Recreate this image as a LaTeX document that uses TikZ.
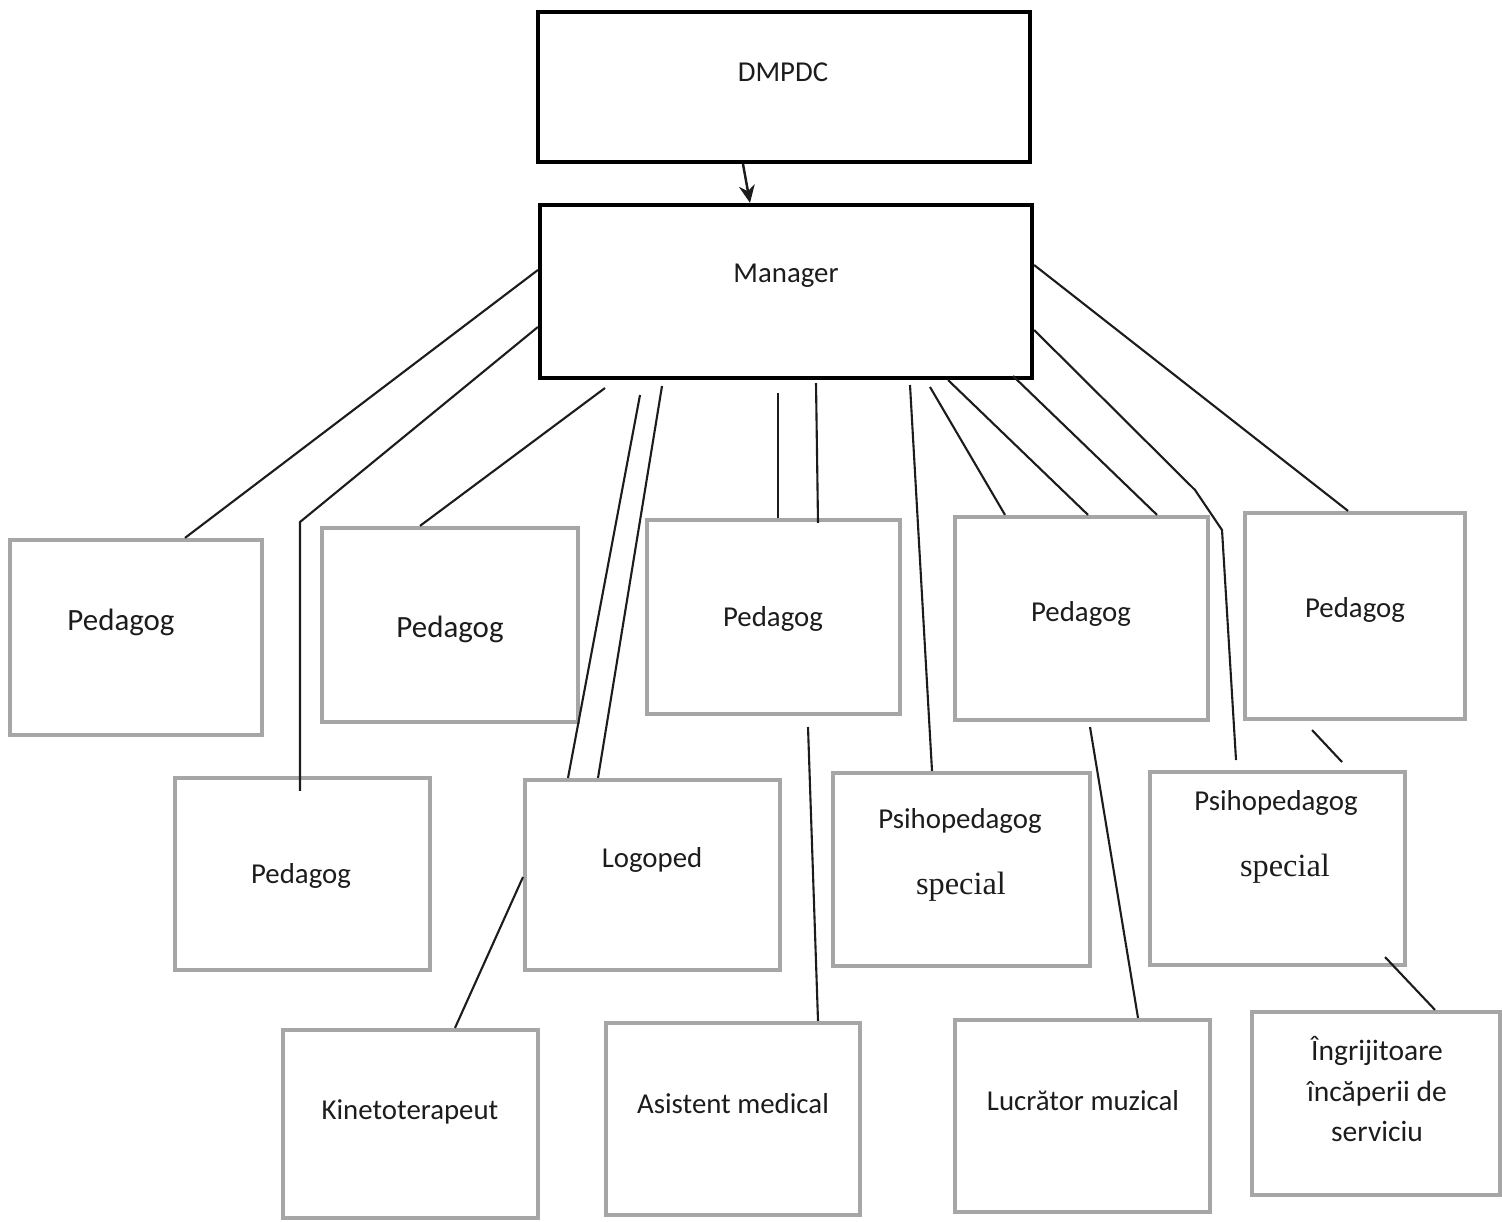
\documentclass[tikz,border=0pt]{standalone}
\usepackage{fontspec}
\setmainfont{Carlito}
\newfontfamily\serifx{Liberation Serif}
\usetikzlibrary{fit,calc,arrows.meta}
\definecolor{ink}{HTML}{1C1C1C}
\definecolor{boxgray}{HTML}{A6A6A6}
\tikzset{
  topbox/.style={draw=black, line width=1.2pt, inner sep=0pt},
  grbox/.style={draw=boxgray, line width=1.2pt, inner sep=0pt},
  lbl/.style={text=ink, font=\fontsize{8.2}{10}\selectfont, inner sep=0pt},
  sp/.style={text=ink, font=\serifx\fontsize{9.2}{11}\selectfont, inner sep=0pt},
  conn/.style={draw=ink, line width=0.6pt},
}
\begin{document}
\begin{tikzpicture}
\useasboundingbox (0,0) rectangle (15.02,-12.21);
% boxes
\node[topbox, fit={(5.38,-0.12)(10.30,-1.62)}] (dm) {};
\node[topbox, fit={(5.40,-2.05)(10.32,-3.78)}] (man) {};
\node[grbox, fit={(0.10,-5.40)(2.62,-7.35)}] (p1) {};
\node[grbox, fit={(3.22,-5.28)(5.78,-7.22)}] (p2) {};
\node[grbox, fit={(6.47,-5.20)(9.00,-7.14)}] (p3) {};
\node[grbox, fit={(9.55,-5.17)(12.08,-7.20)}] (p4) {};
\node[grbox, fit={(12.45,-5.13)(14.65,-7.19)}] (p5) {};
\node[grbox, fit={(1.75,-7.78)(4.30,-9.70)}] (p6) {};
\node[grbox, fit={(5.25,-7.80)(7.80,-9.70)}] (lg) {};
\node[grbox, fit={(8.33,-7.73)(10.90,-9.66)}] (ps1) {};
\node[grbox, fit={(11.50,-7.72)(14.05,-9.65)}] (ps2) {};
\node[grbox, fit={(2.83,-10.30)(5.38,-12.18)}] (kt) {};
\node[grbox, fit={(6.06,-10.23)(8.60,-12.15)}] (am) {};
\node[grbox, fit={(9.55,-10.20)(12.10,-12.12)}] (lm) {};
\node[grbox, fit={(12.52,-10.12)(15.00,-11.95)}] (ig) {};
% texts
\node[lbl] (tdm) at (7.83,-0.72) {DMPDC};
\node[lbl] (tman) at (7.86,-2.76) {Manager};
\node[lbl, font=\fontsize{8.8}{10}\selectfont] (tp1) at (1.21,-6.22) {Pedagog};
\node[lbl, font=\fontsize{8.8}{10}\selectfont] (tp2) at (4.50,-6.29) {Pedagog};
\node[lbl] (tp3) at (7.73,-6.19) {Pedagog};
\node[lbl] (tp4) at (10.81,-6.14) {Pedagog};
\node[lbl] (tp5) at (13.55,-6.10) {Pedagog};
\node[lbl] (tp6) at (3.01,-8.76) {Pedagog};
\node[lbl] (tlg) at (6.52,-8.60) {Logoped};
\node[lbl] (tps1a) at (9.60,-8.21) {Psihopedagog};
\node[sp] (tps1b) at (9.61,-8.87) {special};
\node[lbl] (tps2a) at (12.76,-8.03) {Psihopedagog};
\node[sp] (tps2b) at (12.85,-8.69) {special};
\node[lbl] (tkt) at (4.10,-11.12) {Kinetoterapeut};
\node[lbl] (tam) at (7.33,-11.04) {Asistent medical};
\node[lbl] (tlm) at (10.83,-11.01) {Lucrător muzical};
\node[lbl, align=center, font=\fontsize{8.4}{11.4}\selectfont] (tig) at (13.77,-10.89) {Îngrijitoare\\încăperii de\\serviciu};
% free ends
\coordinate (c) at (6.05,-3.88);
\coordinate (d) at (6.40,-3.95);
\coordinate (e) at (6.62,-3.86);
\coordinate (f) at (7.78,-3.93);
\coordinate (g) at (8.16,-3.83);
\coordinate (h) at (9.10,-3.85);
\coordinate (i) at (9.30,-3.87);
\coordinate (j) at (9.48,-3.80);
\coordinate (k) at (10.13,-3.76);
\coordinate (lend) at (12.36,-7.60);
\coordinate (n1) at (13.12,-7.30);
\coordinate (n2) at (13.42,-7.62);
\coordinate (o1) at (5.23,-8.77);
\coordinate (p1b) at (8.08,-7.27);
\coordinate (q1) at (10.90,-7.27);
\coordinate (r1) at (13.85,-9.57);
% connectors
\draw[ink, line width=0.7pt, -{Stealth[length=5pt,width=4.5pt]}] (dm.south -| 7.43,0) -- (man.north -| 7.50,0);
\draw[conn] (man.west |- 0,-2.70) -- (p1.north -| 1.85,0);
\draw[conn] (man.west |- 0,-3.27) -- (3.00,-5.22) -- ($(p6.north -| 3.00,0)+(0,-0.15)$);
\draw[conn] (c) -- (p2.north -| 4.20,0);
\draw[conn] (d) -- (lg.north -| 5.68,0);
\draw[conn] (e) -- (lg.north -| 5.98,0);
\draw[conn] (f) -- (p3.north -| 7.78,0);
\draw[conn] (g) -- ($(p3.north -| 8.18,0)+(0,-0.05)$);
\draw[conn] (h) -- (ps1.north -| 9.32,0);
\draw[conn] (i) -- (p4.north -| 10.05,0);
\draw[conn] (j) -- (p4.north -| 10.88,0);
\draw[conn] (k) -- (p4.north -| 11.57,0);
\draw[conn] (man.east |- 0,-3.30) -- (11.95,-4.90) -- (12.22,-5.30) -- (lend);
\draw[conn] (man.east |- 0,-2.65) -- (p5.north -| 13.48,0);
\draw[conn] (n1) -- (n2);
\draw[conn] (o1) -- (kt.north -| 4.55,0);
\draw[conn] (p1b) -- (am.north -| 8.18,0);
\draw[conn] (q1) -- (lm.north -| 11.38,0);
\draw[conn] (r1) -- (ig.north -| 14.35,0);
\end{tikzpicture}
\end{document}
